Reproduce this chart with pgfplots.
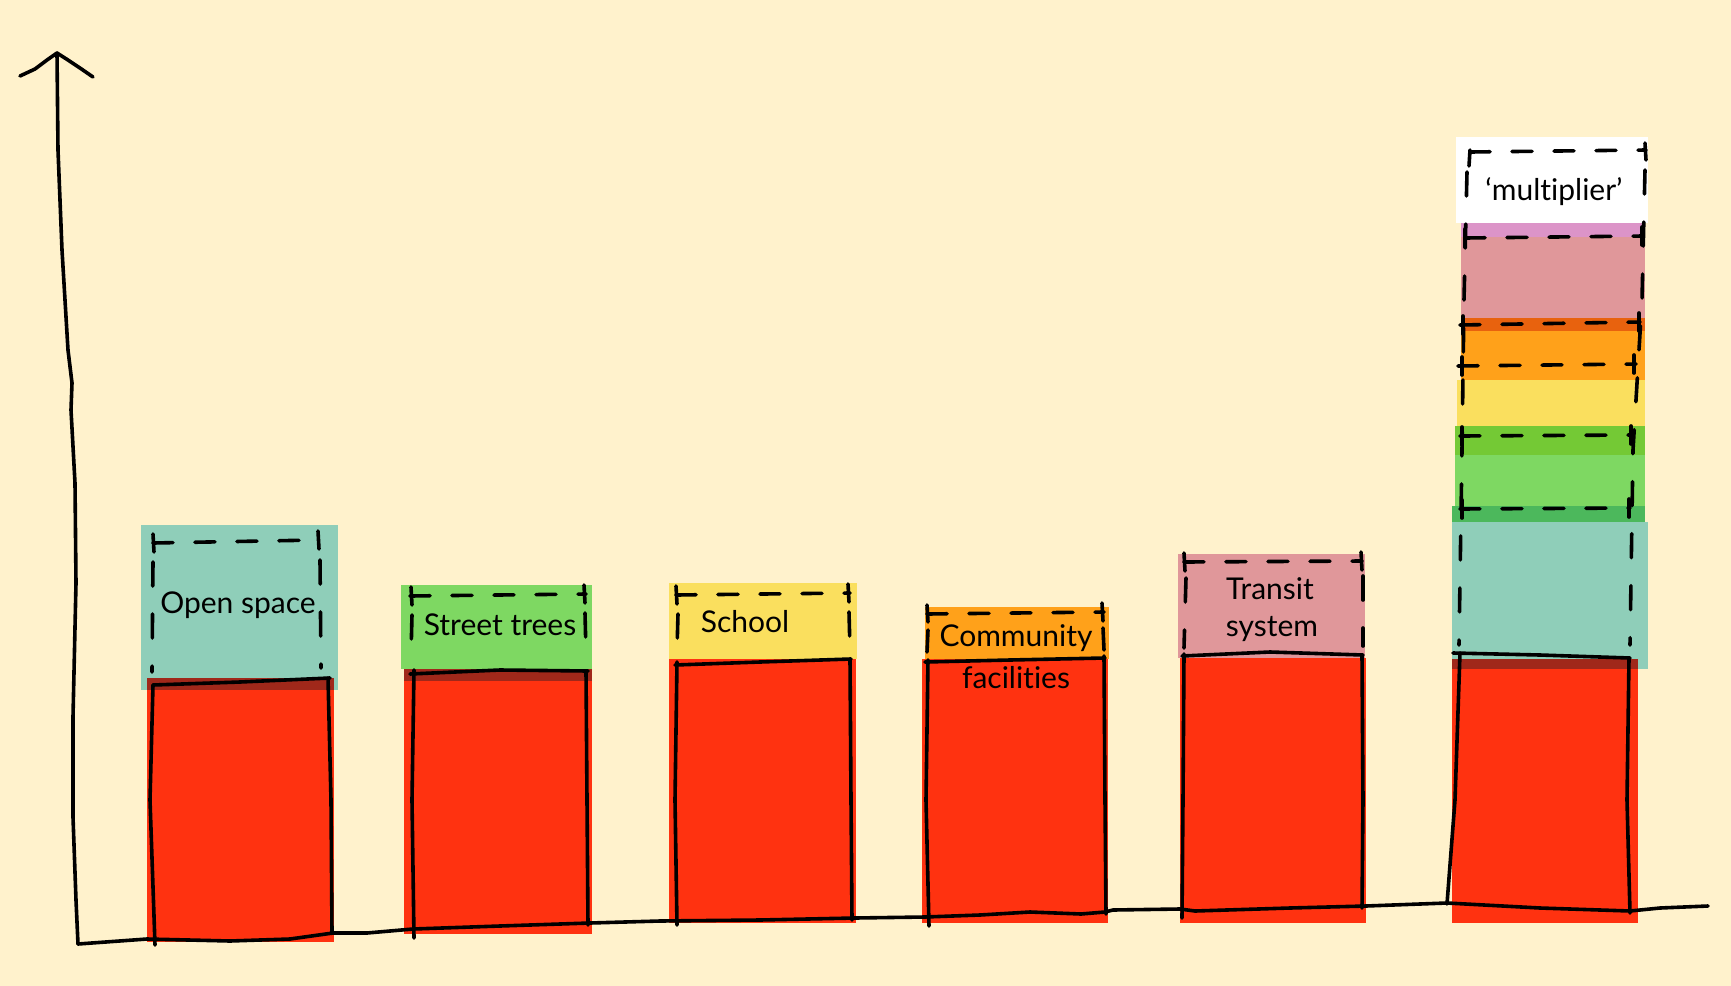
\documentclass[border=0pt]{standalone}
\usepackage{pgfplots}
\pgfplotsset{compat=1.18}
\usepackage{fontspec}
\setmainfont{Lato}[Ligatures=CommonOff]
\definecolor{cream}{HTML}{FFF2CC}
\definecolor{barred}{HTML}{FF3210}
\definecolor{darkband}{HTML}{A0281A}
\definecolor{teal}{HTML}{8FCEB9}
\definecolor{dteal}{HTML}{4CB85C}
\definecolor{grn}{HTML}{7ED862}
\definecolor{dgrn}{HTML}{74C935}
\definecolor{yel}{HTML}{FADF5E}
\definecolor{orng}{HTML}{FFA11A}
\definecolor{dorng}{HTML}{E8620E}
\definecolor{pnk}{HTML}{E0979A}
\definecolor{purp}{HTML}{DC94C8}
\newcommand{\rect}[5]{\addplot[fill=#1, draw=none] coordinates {(#2,#4) (#3,#4) (#3,#5) (#2,#5)} -- cycle;}
\tikzset{
  hand/.style={black, line width=1.8pt, line cap=round, line join=round},
  dsh/.style={hand, dash pattern=on 10pt off 11pt},
  vdsh/.style={hand, dash pattern=on 12pt off 14pt},
  lbl/.style={font=\fontsize{15}{18}\selectfont, text=black, inner sep=0pt},
}
\begin{document}
\begin{tikzpicture}
\begin{axis}[x=0.5pt, y=0.5pt, xmin=0, xmax=1731, ymin=0, ymax=986,
  y dir=reverse, hide axis, clip=false]
% background
\rect{cream}{0}{1731}{0}{986}
% ---- bar 1: open space
\rect{barred}{147}{334}{678}{942}
\rect{teal}{141}{338}{525}{678}
\rect{darkband}{147}{334}{678}{690}
\rect{teal}{334}{338}{678}{690}
\rect{teal}{141}{147}{678}{690}
% ---- bar 2: street trees
\rect{barred}{404}{592}{669}{934}
\rect{grn}{401}{592}{585}{669}
\rect{darkband}{404}{592}{669}{681}
% ---- bar 3: school
\rect{barred}{669}{856}{659}{923}
\rect{yel}{669}{857}{583}{659}
% ---- bar 4: community facilities
\rect{barred}{922}{1108}{659}{923}
\rect{orng}{925}{1109}{607}{659}
% ---- bar 5: transit system
\rect{barred}{1180}{1366}{658}{923}
\rect{pnk}{1178}{1365}{554}{658}
% ---- bar 6: multiplier stack
\rect{barred}{1452}{1638}{669}{923}
\rect{teal}{1452}{1648}{522}{669}
\rect{darkband}{1452}{1638}{659}{669}
\rect{dteal}{1452}{1645}{506}{522}
\rect{grn}{1455}{1645}{455}{506}
\rect{dgrn}{1455}{1645}{426}{455}
\rect{yel}{1457}{1645}{380}{426}
\rect{orng}{1461}{1645}{331}{380}
\rect{dorng}{1461}{1645}{318}{331}
\rect{pnk}{1461}{1645}{237}{318}
\rect{purp}{1461}{1645}{223}{237}
\rect{white}{1456}{1648}{137}{223}
% ---- axes (hand drawn)
\addplot[hand] coordinates {(20,76) (35,69) (47,60) (57,53) (68,60) (80,68) (93,77)};
\addplot[hand] coordinates {(57,53) (58,150) (62,250) (68,350) (72,383) (71,410) (75,483) (76,583) (73,717) (73,817) (76,900) (78,944)};
\addplot[hand] coordinates {(78,944) (147,939) (230,941) (290,939) (333,933) (367,933) (413,929) (500,926) (590,923) (660,921) (760,920) (855,918) (925,917) (980,915) (1030,912) (1081,914) (1105,912) (1113,910) (1180,909) (1195,911) (1290,908) (1366,906) (1447,903) (1540,908) (1630,911) (1660,908) (1708,906)};
% ---- solid bar outlines
\addplot[hand] coordinates {(153,685) (240,682) (330,678)};
\addplot[hand] coordinates {(153,685) (150,800) (155,945)};
\addplot[hand] coordinates {(328,678) (331,800) (332,933)};
\addplot[hand] coordinates {(410,674) (500,670) (588,671)};
\addplot[hand] coordinates {(414,670) (412,800) (414,938)};
\addplot[hand] coordinates {(586,671) (587,800) (588,925)};
\addplot[hand] coordinates {(675,665) (760,662) (851,659)};
\addplot[hand] coordinates {(677,662) (675,800) (677,925)};
\addplot[hand] coordinates {(850,659) (851,800) (852,920)};
\addplot[hand] coordinates {(925,662) (1010,660) (1105,658)};
\addplot[hand] coordinates {(928,660) (926,800) (929,926)};
\addplot[hand] coordinates {(1104,656) (1105,800) (1106,914)};
\addplot[hand] coordinates {(1182,656) (1270,652) (1363,655)};
\addplot[hand] coordinates {(1184,654) (1183,800) (1182,918)};
\addplot[hand] coordinates {(1362,655) (1363,800) (1362,908)};
\addplot[hand] coordinates {(1453,653) (1540,655) (1630,658)};
\addplot[hand] coordinates {(1460,653) (1455,800) (1447,904)};
\addplot[hand] coordinates {(1629,658) (1627,800) (1630,913)};
% ---- dashed boxes
% bar 1
\addplot[dsh] coordinates {(153,543) (318,540)};
\addplot[hand] coordinates {(153,534) (154,552)};
\addplot[hand] coordinates {(318,531) (319,549)};
\addplot[vdsh] coordinates {(153,562) (152,672)};
\addplot[vdsh] coordinates {(320,560) (321,668)};
% bar 2
\addplot[dsh] coordinates {(410,596) (586,594)};
\addplot[hand] coordinates {(411,587) (412,605)};
\addplot[hand] coordinates {(584,585) (585,603)};
\addplot[vdsh] coordinates {(412,615) (411,655)};
\addplot[vdsh] coordinates {(585,613) (586,653)};
% bar 3
\addplot[dsh] coordinates {(676,595) (850,593)};
\addplot[hand] coordinates {(676,586) (677,604)};
\addplot[hand] coordinates {(848,584) (849,602)};
\addplot[vdsh] coordinates {(678,614) (677,650)};
\addplot[vdsh] coordinates {(849,612) (850,650)};
% bar 4
\addplot[dsh] coordinates {(927,614) (1104,612)};
\addplot[hand] coordinates {(927,605) (928,622)};
\addplot[hand] coordinates {(1102,603) (1103,621)};
\addplot[vdsh] coordinates {(928,630) (927,652)};
\addplot[vdsh] coordinates {(1103,628) (1104,650)};
% bar 5
\addplot[dsh] coordinates {(1184,562) (1362,561)};
\addplot[hand] coordinates {(1184,553) (1185,571)};
\addplot[hand] coordinates {(1361,552) (1362,570)};
\addplot[vdsh] coordinates {(1186,578) (1184,648)};
\addplot[vdsh] coordinates {(1363,576) (1363,646)};
% bar 6
\addplot[dsh] coordinates {(1470,152) (1646,150)};
\addplot[hand] coordinates {(1470,150) (1469,166)};
\addplot[hand] coordinates {(1645,143) (1646,160)};
\addplot[dsh] coordinates {(1465,238) (1643,236)};
\addplot[hand] coordinates {(1465,229) (1465,247)};
\addplot[hand] coordinates {(1642,227) (1642,245)};
\addplot[dsh] coordinates {(1460,325) (1640,322)};
\addplot[hand] coordinates {(1463,316) (1463,334)};
\addplot[hand] coordinates {(1639,313) (1639,331)};
\addplot[dsh] coordinates {(1458,366) (1636,364)};
\addplot[hand] coordinates {(1462,357) (1462,375)};
\addplot[hand] coordinates {(1634,355) (1634,373)};
\addplot[dsh] coordinates {(1460,436) (1633,435)};
\addplot[hand] coordinates {(1462,427) (1462,445)};
\addplot[hand] coordinates {(1631,426) (1631,444)};
\addplot[dsh] coordinates {(1460,509) (1630,508)};
\addplot[hand] coordinates {(1462,500) (1462,518)};
\addplot[hand] coordinates {(1629,499) (1629,517)};
\addplot[vdsh] coordinates {(1467,172) (1464,300) (1462,450) (1459,645)};
\addplot[vdsh] coordinates {(1645,170) (1642,300) (1633,450) (1630,645)};
% ---- labels
\node[lbl] at (axis cs:238,605) {Open space};
\node[lbl] at (axis cs:500,625) {Street trees};
\node[lbl] at (axis cs:745,622) {School};
\node[lbl] at (axis cs:1016,638) {Community};
\node[lbl] at (axis cs:1016,678) {facilities};
\node[lbl] at (axis cs:1270,589) {Transit};
\node[lbl] at (axis cs:1272,629) {system};
\node[lbl] at (axis cs:1554,192) {‘multiplier’};
\end{axis}
\end{tikzpicture}
\end{document}
